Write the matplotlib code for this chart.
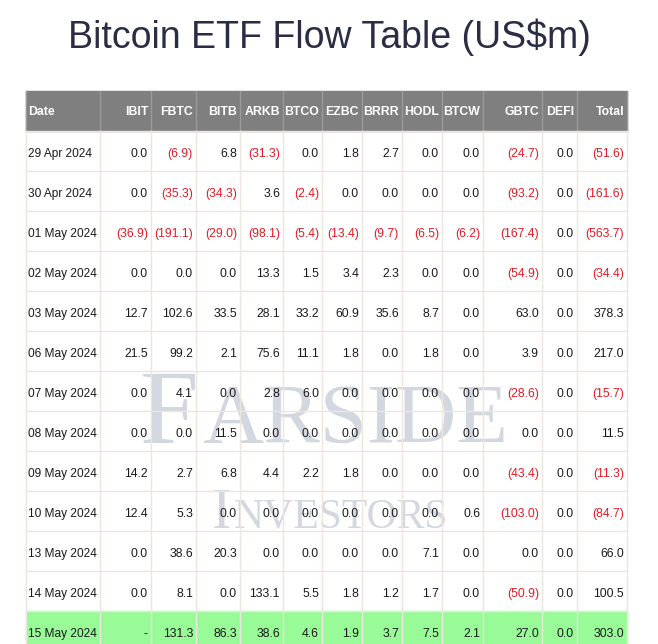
import matplotlib.pyplot as plt
from matplotlib.patches import Rectangle

# table data (US$m), None means no figure yet ("-")
dates = ["29 Apr 2024", "30 Apr 2024", "01 May 2024", "02 May 2024", "03 May 2024",
         "06 May 2024", "07 May 2024", "08 May 2024", "09 May 2024", "10 May 2024",
         "13 May 2024", "14 May 2024", "15 May 2024"]
ibit = [0.0, 0.0, -36.9, 0.0, 12.7, 21.5, 0.0, 0.0, 14.2, 12.4, 0.0, 0.0, None]
fbtc = [-6.9, -35.3, -191.1, 0.0, 102.6, 99.2, 4.1, 0.0, 2.7, 5.3, 38.6, 8.1, 131.3]
bitb = [6.8, -34.3, -29.0, 0.0, 33.5, 2.1, 0.0, 11.5, 6.8, 0.0, 20.3, 0.0, 86.3]
arkb = [-31.3, 3.6, -98.1, 13.3, 28.1, 75.6, 2.8, 0.0, 4.4, 0.0, 0.0, 133.1, 38.6]
btco = [0.0, -2.4, -5.4, 1.5, 33.2, 11.1, 6.0, 0.0, 2.2, 0.0, 0.0, 5.5, 4.6]
ezbc = [1.8, 0.0, -13.4, 3.4, 60.9, 1.8, 0.0, 0.0, 1.8, 0.0, 0.0, 1.8, 1.9]
brrr = [2.7, 0.0, -9.7, 2.3, 35.6, 0.0, 0.0, 0.0, 0.0, 0.0, 0.0, 1.2, 3.7]
hodl = [0.0, 0.0, -6.5, 0.0, 8.7, 1.8, 0.0, 0.0, 0.0, 0.0, 7.1, 1.7, 7.5]
btcw = [0.0, 0.0, -6.2, 0.0, 0.0, 0.0, 0.0, 0.0, 0.0, 0.6, 0.0, 0.0, 2.1]
gbtc = [-24.7, -93.2, -167.4, -54.9, 63.0, 3.9, -28.6, 0.0, -43.4, -103.0, 0.0, -50.9, 27.0]
defi = [0.0] * 13
total = [-51.6, -161.6, -563.7, -34.4, 378.3, 217.0, -15.7, 11.5, -11.3, -84.7, 66.0, 100.5, 303.0]

headers = ["Date", "IBIT", "FBTC", "BITB", "ARKB", "BTCO", "EZBC", "BRRR", "HODL",
           "BTCW", "GBTC", "DEFI", "Total"]
columns = [ibit, fbtc, bitb, arkb, btco, ezbc, brrr, hodl, btcw, gbtc, defi, total]

col_w = [74, 51, 45, 44, 43, 39, 40, 40, 40, 41, 59, 35, 50]
left, top_head, head_h, row_h = 26, 91, 40, 40

fig = plt.figure(figsize=(6.58, 6.44), dpi=100)
ax = fig.add_axes([0, 0, 1, 1])
ax.set_xlim(0, 658)
ax.set_ylim(644, 0)
ax.axis("off")

font = "Liberation Sans"
red = "#e31b23"
grid_c = "#ebe7df"

fig.text(0.5, 1 - 48 / 644, "Bitcoin ETF Flow Table (US$m)", ha="center", va="baseline",
         fontsize=27, color="#2a2d43", family=font)

edges = [left]
for w in col_w:
    edges.append(edges[-1] + w)
right = edges[-1]
n = len(dates)

# header
ax.add_patch(Rectangle((left, top_head), right - left, head_h, color="#7f7f7f", zorder=1))
for i, h in enumerate(headers):
    if i == 0:
        ax.text(edges[0] + 2, top_head + 24, h, ha="left", va="baseline", color="white",
                fontsize=8.8, fontweight="bold", family=font, zorder=5)
    else:
        ax.text(edges[i + 1] - 3, top_head + 24, h, ha="right", va="baseline", color="white",
                fontsize=8.8, fontweight="bold", family=font, zorder=5)
for x in edges:
    ax.plot([x, x], [top_head, top_head + head_h], color="#9a9a9a", lw=1, zorder=2)

# body rows
body_top = top_head + head_h
for r in range(n):
    y0 = body_top + r * row_h
    if r == n - 1:
        ax.add_patch(Rectangle((left, y0), right - left, row_h, color="#98fb98", zorder=1))
    ax.text(edges[0] + 2, y0 + 26, dates[r], ha="left", va="baseline", color="#1a1a1a",
            fontsize=8.6, family=font, zorder=5)
    for c, col in enumerate(columns):
        v = col[r]
        if v is None:
            s, colr = "-", "#1a1a1a"
        elif v < 0:
            s, colr = "(%.1f)" % abs(v), red
        else:
            s, colr = "%.1f" % v, "#1a1a1a"
        ax.text(edges[c + 2] - 3, y0 + 26, s, ha="right", va="baseline", color=colr,
                fontsize=8.8, family=font, zorder=5)

bottom = body_top + n * row_h
for r in range(n + 1):
    y = body_top + r * row_h
    ax.plot([left, right], [y, y], color=grid_c, lw=1, zorder=3)
for x in edges:
    ax.plot([x, x], [body_top, bottom], color=grid_c, lw=1, zorder=3)

# watermark
wm = "#c9cdd9"
renderer = fig.canvas.get_renderer()

def chain(parts, x, y, gap):
    for txt, size in parts:
        t = ax.text(x, y, txt, ha="left", va="baseline", fontsize=size, color=wm,
                    family="Liberation Serif", alpha=0.8, zorder=2)
        x = t.get_window_extent(renderer).x1 + gap

chain([("F", 76), ("ARSIDE", 61)], 140, 443, 3)
chain([("I", 42), ("NVESTORS", 30)], 212, 528, 2)

fig.savefig("out.png", dpi=100)
